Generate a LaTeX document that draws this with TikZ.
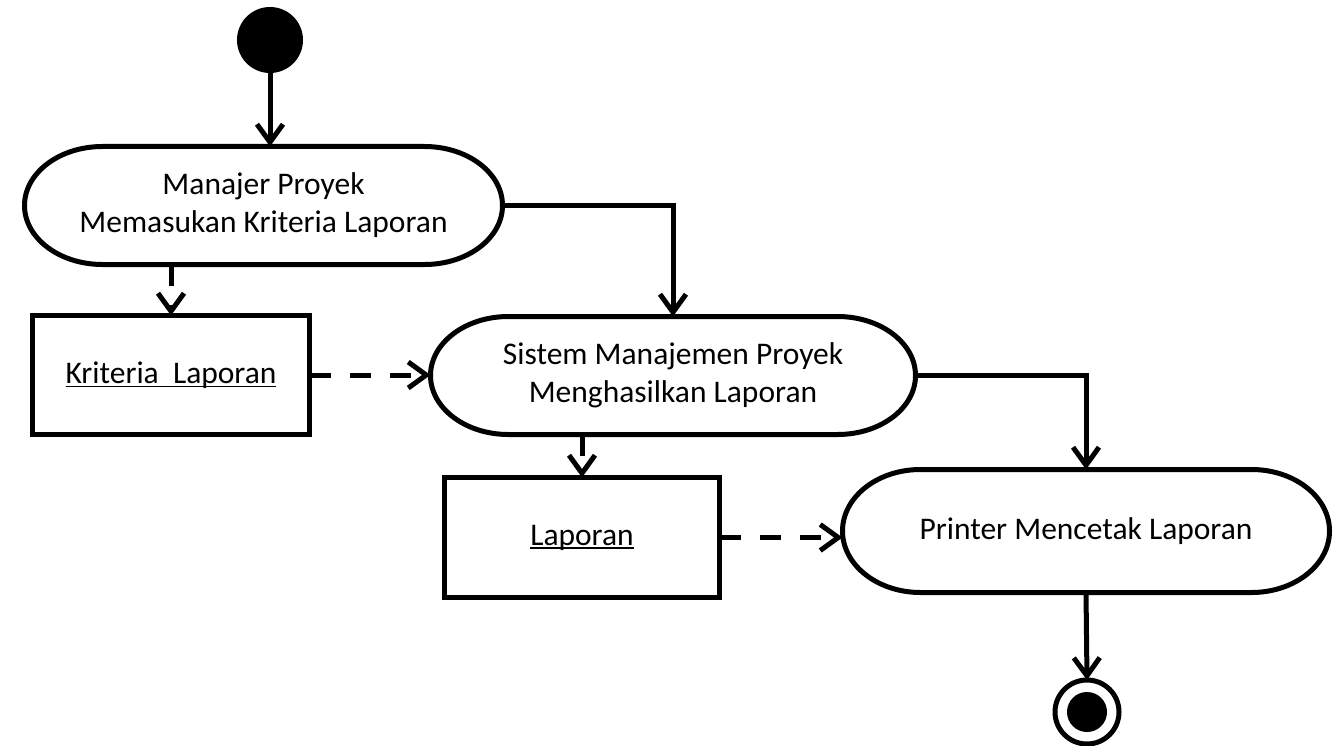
\documentclass[tikz,border=0pt]{standalone}
\usepackage{fontspec}
\setmainfont{Carlito}
\usetikzlibrary{arrows.meta}
\newsavebox\myulbox
\newcommand{\myul}[1]{\sbox\myulbox{#1}\rlap{\rule[-4pt]{\wd\myulbox}{1.6pt}}\usebox\myulbox}
% elliptic-ended activity outline: #1 node name, #2 x radius, #3 y radius (half height)
\newcommand{\stadium}[3]{\draw[outline] ([xshift=#2]#1.north west) -- ([xshift=-#2]#1.north east)
  arc[start angle=90,end angle=-90,x radius=#2,y radius=#3] -- ([xshift=#2]#1.south west)
  arc[start angle=270,end angle=90,x radius=#2,y radius=#3] -- cycle;}
\begin{document}
\begin{tikzpicture}[x=1pt,y=-1pt,
  every node/.style={font=\fontsize{31.5}{38}\selectfont, inner sep=0pt, outer sep=0pt},
  outline/.style={line width=5pt, line join=round},
  activity/.style={align=center},
  objbox/.style={draw, line width=5pt},
  flow/.style={line width=5pt, -{Straight Barb[length=18pt,width=26pt]}},
  objflow/.style={flow, dash pattern=on 21pt off 19pt},
]
\useasboundingbox (0,0) rectangle (1340,746);
\node[circle, fill, minimum size=66pt] (start) at (270,40) {};
\node[activity, minimum width=478pt, minimum height=118pt] (a1) at (263.5,205.5) {Manajer Proyek\\Memasukan Kriteria Laporan};
\node[activity, minimum width=485pt, minimum height=118pt] (a2) at (673,375.5) {Sistem Manajemen Proyek\\Menghasilkan Laporan};
\node[activity, minimum width=487pt, minimum height=123pt] (a3) at (1086,531) {Printer Mencetak Laporan};
\stadium{a1}{78pt}{59pt}
\stadium{a2}{78pt}{59pt}
\stadium{a3}{78pt}{61.5pt}
\node[objbox, minimum width=277pt, minimum height=119pt] (k) at (171,375) {\myul{Kriteria~~Laporan}};
\node[objbox, minimum width=275pt, minimum height=120pt] (l) at (582,537.5) {\myul{Laporan}};
\node[circle, draw, line width=5pt, minimum size=64pt] (end) at (1087,712) {};
\node[circle, fill, minimum size=40pt] (endin) at (end) {};
\draw[flow] (start.south) -- (start.south |- a1.north);
\draw[flow] (a1.east) -| (a2.north);
\draw[objflow] (a1.south -| k.north) -- (k.north);
\draw[objflow] (k.east) -- (k.east -| a2.west);
\draw[objflow] (a2.south -| l.north) -- (l.north);
\draw[flow] (a2.east) -| (a3.north);
\draw[objflow] (l.east) -- (l.east -| a3.west);
\draw[flow] (a3.south) -- (end.north);
\end{tikzpicture}
\end{document}
